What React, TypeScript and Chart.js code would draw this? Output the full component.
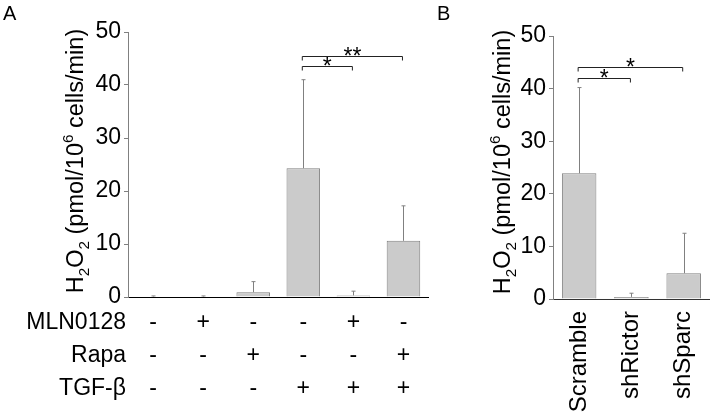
import React, { useEffect, useRef } from 'react';
import { Chart, registerables } from 'chart.js';

Chart.register(...registerables);

const FONT = '"Liberation Sans", Arial, Helvetica, sans-serif';
const FS = 23;

// Panel A
const conditionsA = ['1', '2', '3', '4', '5', '6'];
const rowNamesA = ['MLN0128', 'Rapa', 'TGF-β'];
const mln0128 = ['-', '+', '-', '-', '+', '-'];
const rapa = ['-', '-', '+', '-', '-', '+'];
const tgfBeta = ['-', '-', '-', '+', '+', '+'];
const valuesA = [0.1, 0.1, 0.9, 24.3, 0.3, 10.6];
const errorsA = [0.1, 0.1, 2.0, 16.7, 0.8, 6.6];
const sigFromA = [3, 3];
const sigToA = [4, 5];
const sigLevelA = [43.5, 45.5];
const sigTextA = ['*', '**'];

// Panel B
const labelsB = ['Scramble', 'shRictor', 'shSparc'];
const valuesB = [23.9, 0.4, 4.9];
const errorsB = [16.3, 0.7, 7.6];
const sigFromB = [0, 0];
const sigToB = [1, 2];
const sigLevelB = [42.1, 44.1];
const sigTextB = ['*', '*'];

const yMin = 0;
const yMax = 50;
const yStep = 10;

const X_LINE = 33;
const X_PAD_A = 9;

function drawYTitle(ctx: CanvasRenderingContext2D, bx: number, cy: number, E: number) {
  const segs = [
    { t: 'H', s: 1, dy: 0 },
    { t: '2', s: 0.65, dy: 0.24 },
    { t: 'O', s: 1, dy: 0 },
    { t: '2', s: 0.65, dy: 0.24 },
    { t: ' (pmol/10', s: 1, dy: 0 },
    { t: '6', s: 0.65, dy: -0.42 },
    { t: ' cells/min)', s: 1, dy: 0 },
  ];
  ctx.save();
  ctx.translate(bx, cy);
  ctx.rotate(-Math.PI / 2);
  ctx.fillStyle = '#000';
  ctx.textBaseline = 'alphabetic';
  ctx.textAlign = 'left';
  let total = 0;
  const widths: number[] = [];
  for (const sg of segs) {
    ctx.font = `${E * sg.s}px ${FONT}`;
    const w = ctx.measureText(sg.t).width;
    widths.push(w);
    total += w;
  }
  let x = -total / 2;
  segs.forEach((sg, i) => {
    ctx.font = `${E * sg.s}px ${FONT}`;
    ctx.fillText(sg.t, x, sg.dy * E);
    x += widths[i];
  });
  ctx.restore();
}

function makePlugin(cfg: any) {
  return {
    id: 'extras' + cfg.letter,
    afterDatasetsDraw(chart: any) {
      const ctx = chart.ctx as CanvasRenderingContext2D;
      const ys = chart.scales.y;
      const xs = chart.scales.x;
      const meta = chart.getDatasetMeta(0);
      ctx.save();
      ctx.strokeStyle = '#808080';
      ctx.lineWidth = 1;
      meta.data.forEach((bar: any, i: number) => {
        const x = Math.round(bar.x) + 0.5;
        const yTop = ys.getPixelForValue(cfg.values[i] + cfg.errors[i]);
        const yBase = bar.y;
        ctx.beginPath();
        ctx.moveTo(x, yBase);
        ctx.lineTo(x, yTop);
        ctx.moveTo(x - 2, yTop);
        ctx.lineTo(x + 2, yTop);
        ctx.stroke();
      });
      // significance brackets
      ctx.strokeStyle = '#222';
      ctx.fillStyle = '#000';
      cfg.sigFrom.forEach((f: number, k: number) => {
        const x1 = xs.getPixelForValue(f) - 1;
        const x2 = xs.getPixelForValue(cfg.sigTo[k]) - 1;
        const y = Math.round(ys.getPixelForValue(cfg.sigLevel[k])) + 0.5;
        ctx.beginPath();
        ctx.moveTo(x1, y + 4);
        ctx.lineTo(x1, y);
        ctx.lineTo(x2, y);
        ctx.lineTo(x2, y + 4);
        ctx.stroke();
        ctx.font = `23px ${FONT}`;
        ctx.textAlign = 'center';
        ctx.textBaseline = 'alphabetic';
        ctx.fillText(cfg.sigText[k], (x1 + x2) / 2, y + 7);
      });
      ctx.restore();
    },
    afterDraw(chart: any) {
      const ctx = chart.ctx as CanvasRenderingContext2D;
      ctx.save();
      ctx.fillStyle = '#000';
      ctx.font = `20px ${FONT}`;
      ctx.textAlign = 'left';
      ctx.textBaseline = 'alphabetic';
      ctx.fillText(cfg.letter, cfg.letterX, 20);
      drawYTitle(ctx, cfg.titleX, cfg.titleY, 23.5);
      if (cfg.rowNames) {
        const xs = chart.scales.x;
        ctx.font = `${FS}px ${FONT}`;
        ctx.textAlign = 'right';
        ctx.textBaseline = 'middle';
        cfg.rowNames.forEach((n: string, i: number) => {
          ctx.fillText(n, 126, xs.top + X_PAD_A + X_LINE * (i + 0.5));
        });
      }
      ctx.restore();
    },
  };
}

function yScale(width: number) {
  return {
    min: yMin,
    max: yMax,
    ticks: {
      stepSize: yStep,
      color: '#000',
      font: { family: FONT, size: FS },
      padding: 3,
    },
    grid: { drawOnChartArea: false, tickLength: 4, color: '#808080' },
    border: { color: '#808080', width: 1 },
    afterFit: (s: any) => {
      s.width = width;
    },
  };
}

export default function App() {
  const refA = useRef<HTMLCanvasElement>(null);
  const refB = useRef<HTMLCanvasElement>(null);

  useEffect(() => {
    const chartA = new Chart(refA.current as HTMLCanvasElement, {
      type: 'bar',
      data: {
        labels: conditionsA,
        datasets: [
          {
            data: valuesA,
            backgroundColor: '#cbcbcb',
            borderColor: '#808080',
            borderWidth: 1,
            barPercentage: 0.67,
            categoryPercentage: 1,
          },
        ],
      },
      options: {
        responsive: false,
        animation: false,
        events: [],
        layout: { padding: { left: 0, top: 32, right: 1.5, bottom: 0 } },
        plugins: { legend: { display: false }, tooltip: { enabled: false } },
        scales: {
          x: {
            grid: { display: false, drawTicks: false },
            border: { color: '#000', width: 1 },
            ticks: {
              autoSkip: false,
              maxRotation: 0,
              minRotation: 0,
              padding: X_PAD_A,
              color: '#000',
              font: { family: FONT, size: FS, lineHeight: X_LINE / FS },
              callback: (_v: any, i: number) => [mln0128[i], rapa[i], tgfBeta[i]],
            },
            afterFit: (s: any) => {
              s.height = 116;
            },
          },
          y: yScale(128),
        },
      },
      plugins: [
        makePlugin({
          letter: 'A',
          letterX: 3,
          titleX: 83,
          titleY: 161,
          values: valuesA,
          errors: errorsA,
          sigFrom: sigFromA,
          sigTo: sigToA,
          sigLevel: sigLevelA,
          sigText: sigTextA,
          rowNames: rowNamesA,
        }),
      ],
    } as any);

    const chartB = new Chart(refB.current as HTMLCanvasElement, {
      type: 'bar',
      data: {
        labels: labelsB,
        datasets: [
          {
            data: valuesB,
            backgroundColor: '#cbcbcb',
            borderColor: '#808080',
            borderWidth: 1,
            barPercentage: 0.66,
            categoryPercentage: 1,
          },
        ],
      },
      options: {
        responsive: false,
        animation: false,
        events: [],
        layout: { padding: { left: 0, top: 36, right: 3, bottom: 0 } },
        plugins: { legend: { display: false }, tooltip: { enabled: false } },
        scales: {
          x: {
            grid: { display: false, drawTicks: false },
            border: { color: '#333', width: 1 },
            ticks: {
              autoSkip: false,
              maxRotation: 90,
              minRotation: 90,
              padding: 12,
              color: '#000',
              font: { family: FONT, size: 24 },
            },
            afterFit: (s: any) => {
              s.height = 114;
            },
          },
          y: yScale(123),
        },
      },
      plugins: [
        makePlugin({
          letter: 'B',
          letterX: 7,
          titleX: 80,
          titleY: 162,
          values: valuesB,
          errors: errorsB,
          sigFrom: sigFromB,
          sigTo: sigToB,
          sigLevel: sigLevelB,
          sigText: sigTextB,
          rowNames: null,
        }),
      ],
    } as any);

    return () => {
      chartA.destroy();
      chartB.destroy();
    };
  }, []);

  return (
    <div style={{ position: 'fixed', left: 0, top: 0, width: 725, height: 413, background: '#fff' }}>
      <canvas
        ref={refA}
        width={430}
        height={413}
        style={{ position: 'absolute', left: 0, top: 0, width: 430, height: 413 }}
      />
      <canvas
        ref={refB}
        width={295}
        height={413}
        style={{ position: 'absolute', left: 430, top: 0, width: 295, height: 413 }}
      />
    </div>
  );
}
